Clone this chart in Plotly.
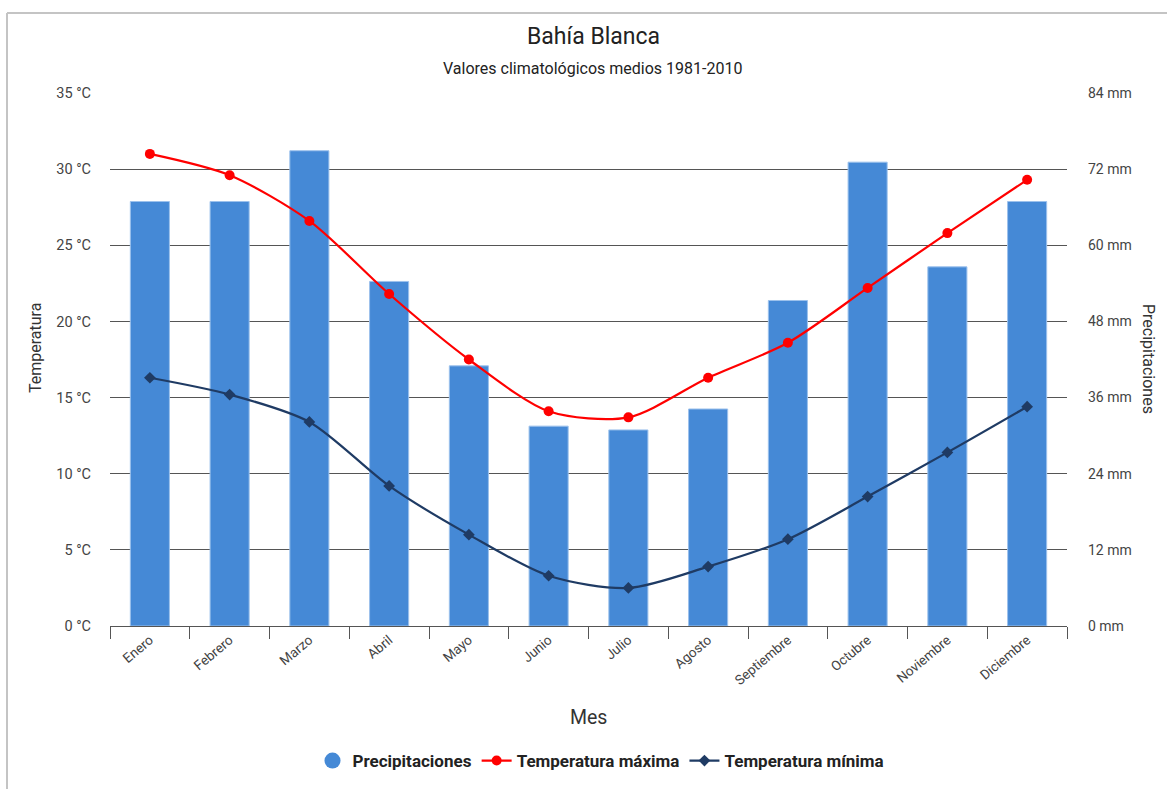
import plotly.graph_objects as go

meses = ["Enero", "Febrero", "Marzo", "Abril", "Mayo", "Junio", "Julio",
         "Agosto", "Septiembre", "Octubre", "Noviembre", "Diciembre"]
precipitaciones = [66.9, 66.9, 74.9, 54.3, 41.0, 31.5, 30.9, 34.2, 51.3, 73.1, 56.6, 66.9]
temp_max = [31.0, 29.6, 26.6, 21.8, 17.5, 14.1, 13.7, 16.3, 18.6, 22.2, 25.8, 29.3]
temp_min = [16.3, 15.2, 13.4, 9.2, 6.0, 3.3, 2.5, 3.9, 5.7, 8.5, 11.4, 14.4]
temp_ticks = [0, 5, 10, 15, 20, 25, 30, 35]
prec_ticks = [0, 12, 24, 36, 48, 60, 72, 84]
temp_labels = [f"{v} °C" for v in temp_ticks]
prec_labels = [f"{v} mm" for v in prec_ticks]

W, H = 1167, 789
L, R, T, B = 110, 100, 93, 163
pw, ph = W - L - R, H - T - B

def px(x):
    return (x - L) / pw

def py(y):
    return (H - B - y) / ph

FONT = "Roboto, Arial, sans-serif"
BAR_C = "#4589d6"
MAX_C = "#ff0000"
MIN_C = "#1f3b64"

fig = go.Figure()
fig.add_trace(go.Bar(
    x=meses, y=precipitaciones, yaxis="y", name="Precipitaciones",
    marker=dict(color=BAR_C, line=dict(color="#9cc1ec", width=1)),
    showlegend=False, legendgroup="p",
))
fig.add_trace(go.Scatter(
    x=[None], y=[None], yaxis="y", mode="markers", name="Precipitaciones",
    marker=dict(color=BAR_C, size=16, symbol="circle"), legendgroup="p",
))
fig.add_trace(go.Scatter(
    x=meses, y=temp_max, yaxis="y2", name="Temperatura máxima", mode="lines+markers",
    line=dict(color=MAX_C, width=2.2, shape="spline", smoothing=0.8),
    marker=dict(color=MAX_C, size=10, symbol="circle"),
))
fig.add_trace(go.Scatter(
    x=meses, y=temp_min, yaxis="y2", name="Temperatura mínima", mode="lines+markers",
    line=dict(color=MIN_C, width=2.2, shape="spline", smoothing=0.8),
    marker=dict(color=MIN_C, size=9, symbol="diamond"),
))

fig.update_layout(
    width=W, height=H,
    margin=dict(l=L, r=R, t=T, b=B, autoexpand=False),
    paper_bgcolor="white", plot_bgcolor="white",
    font=dict(family=FONT, color="#444444", size=13),
    bargap=0.51,
    xaxis=dict(
        type="category", showline=True, linecolor="#555555", linewidth=1,
        ticks="outside", tickson="boundaries", ticklen=12, tickcolor="#555555",
        tickangle=-40, tickfont=dict(size=13.5, color="#444444"),
        showgrid=False, range=[-0.5, 11.5], fixedrange=True,
    ),
    yaxis=dict(
        range=[0, 84], tickmode="array", tickvals=prec_ticks, ticktext=prec_labels,
        side="right", showgrid=True, gridcolor="#555555", gridwidth=1, zeroline=False,
        ticks="", tickfont=dict(size=14, color="#444444"), ticklabelstandoff=20,
    ),
    yaxis2=dict(
        range=[0, 35], tickmode="array", tickvals=temp_ticks, ticktext=temp_labels,
        overlaying="y", side="left", showgrid=False, zeroline=False,
        ticks="", tickfont=dict(size=14.5, color="#444444"), ticklabelstandoff=18,
    ),
    legend=dict(
        orientation="h", x=px(601), xanchor="center", y=py(761), yanchor="middle",
        font=dict(family=FONT, size=17, color="#222222", weight="bold"),
        itemsizing="trace", tracegroupgap=0, itemwidth=30,
    ),
    showlegend=True,
)

anns = [
    dict(text="Bahía Blanca", x=px(593), y=py(37), font=dict(size=23, color="#222222")),
    dict(text="Valores climatológicos medios 1981-2010", x=px(592), y=py(68),
         font=dict(size=16, color="#222222")),
    dict(text="Mes", x=px(588), y=py(717), font=dict(size=19.5, color="#333333")),
    dict(text="Temperatura", x=px(35), y=py(348), textangle=-90,
         font=dict(size=16, color="#333333")),
    dict(text="Precipitaciones", x=px(1149), y=py(359), textangle=90,
         font=dict(size=16, color="#333333")),
]
for a in anns:
    fig.add_annotation(xref="paper", yref="paper", showarrow=False,
                       xanchor="center", yanchor="middle", **a)

border = "#c4c4c4"
fig.add_shape(type="line", xref="paper", yref="paper",
              x0=px(7), x1=px(1170), y0=py(13), y1=py(13),
              line=dict(color=border, width=2))
fig.add_shape(type="line", xref="paper", yref="paper",
              x0=px(7), x1=px(7), y0=py(13), y1=py(792),
              line=dict(color=border, width=2))

fig.write_html("out.html", config={"displayModeBar": False},
               post_script="document.body.style.margin='0';document.body.style.overflow='hidden';")
